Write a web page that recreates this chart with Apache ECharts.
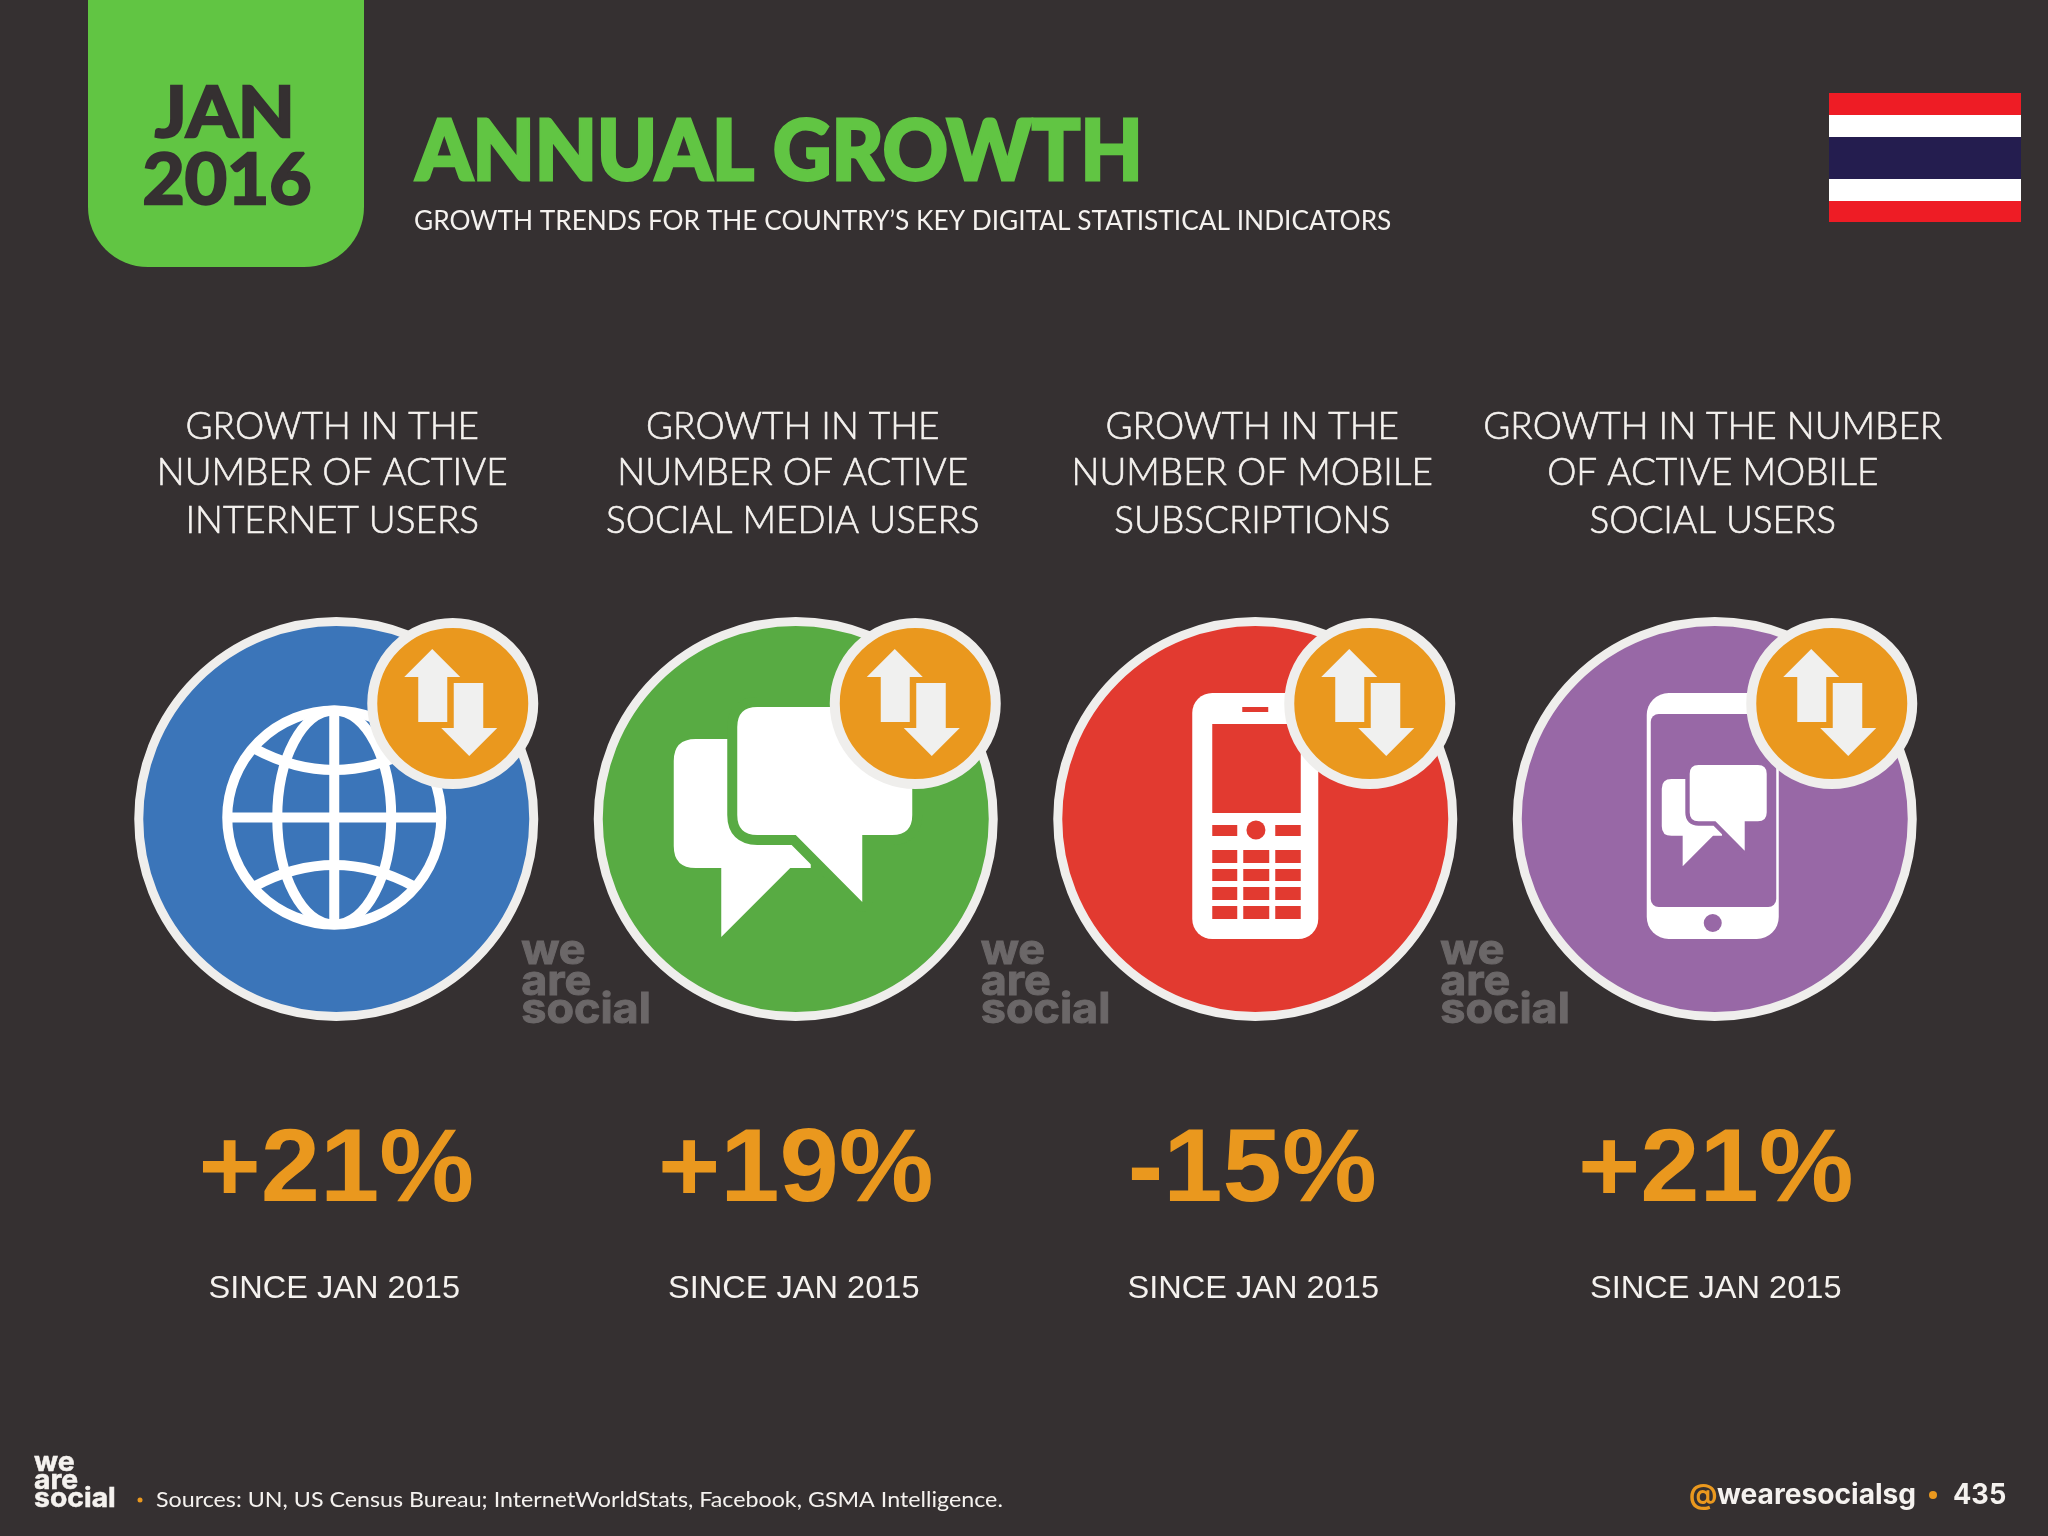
<!DOCTYPE html>
<html lang="en">
<head>
<meta charset="utf-8"/>
<title>Annual Growth</title>
<style>
    html, body { margin: 0; padding: 0; background: #353031; }
    #main { width: 2048px; height: 1536px; }
</style>
<script src="https://cdn.jsdelivr.net/npm/echarts@6/dist/echarts.min.js"></script>
</head>
<body>
<div id="main"></div>
<script>
var categories = ['internet', 'social', 'mobile', 'mobileSocial'];
var headings = [
    ['GROWTH IN THE', 'NUMBER OF ACTIVE', 'INTERNET USERS'],
    ['GROWTH IN THE', 'NUMBER OF ACTIVE', 'SOCIAL MEDIA USERS'],
    ['GROWTH IN THE', 'NUMBER OF MOBILE', 'SUBSCRIPTIONS'],
    ['GROWTH IN THE NUMBER', 'OF ACTIVE MOBILE', 'SOCIAL USERS']
];
var growthValues = [21, 19, -15, 21];
var sinceLabels = ['SINCE JAN 2015', 'SINCE JAN 2015', 'SINCE JAN 2015', 'SINCE JAN 2015'];
var circleColors = ['#3b75b9', '#58ab43', '#e23a30', '#9868a6'];

var BG = '#353031', RING = '#efeeec', ORANGE = '#ea981e', WHITE = '#ffffff', TEXT = '#f5f2ef';
var BASE = '"Lato", sans-serif', LOGO = '"Inter", sans-serif', NUM = '"Liberation Sans", Arial, sans-serif';

// y is the middle of the line, sx squeezes to the reference width, bold thickens with a stroke
function txt(str, x, y, font, fill, align, sx, bold) {
    var style = { text: str, font: font, fill: fill, textAlign: align || 'left', textVerticalAlign: 'middle' };
    if (bold) {
        style.stroke = fill;
        style.lineWidth = bold;
    }
    return { type: 'text', x: x, y: y, scaleX: sx || 1, silent: true, style: style };
}
function rect(x1, y1, x2, y2, fill, r) {
    return { type: 'rect', shape: { x: x1, y: y1, width: x2 - x1, height: y2 - y1, r: r || 0 }, style: { fill: fill } };
}
function circle(x, y, r, fill, stroke, lw) {
    return { type: 'circle', shape: { cx: x, cy: y, r: r }, style: { fill: fill, stroke: stroke, lineWidth: lw || 0 } };
}
function path(d, style) {
    return { type: 'path', shape: { pathData: d }, style: style };
}

function logo(x, y1, y2, y3, size, fill, sx, bold) {
    var f = '700 ' + size + 'px ' + LOGO;
    return [txt('we', x, y1, f, fill, 'left', sx, bold), txt('are', x, y2, f, fill, 'left', sx, bold), txt('social', x, y3, f, fill, 'left', sx, bold)];
}

var BUBBLE_BACK = 'M-100,-80 L15,-80 L15,49 L-5.5,49 L-74.5,118 L-74.5,49 L-100,49 Q-122,49 -122,27 L-122,-58 Q-122,-80 -100,-80 Z';
var BUBBLE_FRONT = 'M-38.5,-112 L96.5,-112 Q116.5,-112 116.5,-92 L116.5,-4 Q116.5,16 96.5,16 L66.5,16 L66.5,83 L0,16 L-38.5,16 Q-58.5,16 -58.5,-4 L-58.5,-92 Q-58.5,-112 -38.5,-112 Z';

function bubbles(color) {
    return [
        path(BUBBLE_BACK, { fill: WHITE }),
        path(BUBBLE_FRONT, { fill: color, stroke: color, lineWidth: 20, lineJoin: 'round' }),
        path(BUBBLE_FRONT, { fill: WHITE })
    ];
}

function globeIcon() {
    var line = { fill: 'none', stroke: WHITE, lineWidth: 10 };
    return [{
        type: 'group', x: -2, y: -1.5,
        children: [
            { type: 'circle', shape: { cx: 0, cy: 0, r: 107 }, style: line },
            { type: 'ellipse', shape: { cx: 0, cy: 0, rx: 57, ry: 107 }, style: line },
            path('M-107,0 L107,0 M0,-107 L0,107', line),
            path('M-80,-69 Q0,-26 80,-69', line),
            path('M-80,69 Q0,26 80,69', line)
        ]
    }];
}

function barPhoneIcon(color) {
    var els = [
        rect(-63, -126, 63, 120, WHITE, 20),
        rect(-13, -112, 13, -107, color),
        rect(-43, -95, 45.5, -6, color),
        rect(-43, 6, -18, 17, color),
        rect(20, 6, 45.5, 17, color),
        circle(0.7, 11, 9.5, color)
    ];
    [[31, 44], [50, 62], [68, 81], [87, 100]].forEach(function (row) {
        [[-43, -18], [-12, 14], [20, 45.5]].forEach(function (col) {
            els.push(rect(col[0], row[0], col[1], row[1], color));
        });
    });
    return els;
}

function smartPhoneIcon(color) {
    return [
        rect(-68, -126, 64, 120, WHITE, 22),
        rect(-64, -105, 61.5, 88, color, 8),
        circle(-2, 104, 9, color),
        { type: 'group', x: 0.7, y: -4.7, scaleX: 0.44, scaleY: 0.44, children: bubbles(color) }
    ];
}

function badge(dx, dy) {
    var w = { fill: '#f0f0ef' };
    return {
        type: 'group', x: dx, y: dy,
        children: [
            circle(0, 0, 80.5, ORANGE, RING, 10),
            path('M-20.5,-54.5 L7.5,-26.5 L-5.5,-26.5 L-5.5,18.5 L-34.5,18.5 L-34.5,-26.5 L-48.5,-26.5 Z', w),
            path('M1,-20.5 L30.5,-20.5 L30.5,24.5 L44.5,24.5 L16.5,52.5 L-11.5,24.5 L1,24.5 Z', w)
        ]
    };
}

var icons = [globeIcon, bubbles, barPhoneIcon, smartPhoneIcon];
var badgeDx = [116.5, 119.5, 114.5, 117];
var headingY = [427, 473, 521];
var headingDx = [-4, -3, -3, -2];
var valueDx = [0, 0, -3, 1];
var sinceDx = [-2, -2, -2, 1];

function renderColumn(params, api) {
    var i = api.value(0);
    var c = api.coord([i, 0]);
    var color = circleColors[i];
    var kids = [
        circle(0, 0, 197.5, color, RING, 9)
    ];
    var iconEls = icons[i](color);
    kids = kids.concat(iconEls);
    kids.push(badge(badgeDx[i], -115.5));
    if (i < 3) {
        kids = kids.concat(logo(185, 132, 163, 191, 42, '#6b6768', 1.07, 1));
    }
    var v = growthValues[i];
    var label = (v > 0 ? '+' : '') + v + '%';
    kids.push(txt(label, valueDx[i], 353, '700 104px ' + NUM, ORANGE, 'center', 1.025));
    kids.push(txt(sinceLabels[i], sinceDx[i], 470, '400 31px ' + NUM, TEXT, 'center', 1.05));
    headings[i].forEach(function (line, k) {
        kids.push(txt(line, headingDx[i], headingY[k] - c[1], '300 38px ' + BASE, TEXT, 'center', 0.972, 0.6));
    });
    return { type: 'group', x: c[0], y: c[1], children: kids };
}

var flagBands = [[93, 115, '#ee1c25'], [115, 137, '#ffffff'], [137, 179, '#241d4f'], [179, 201, '#ffffff'], [201, 222, '#ee1c25']];

var headerFooter = [
    { type: 'rect', shape: { x: 88, y: -80, width: 276, height: 347, r: [0, 0, 60, 60] }, style: { fill: '#61c543' } },
    txt('JAN', 225, 114, '700 70px ' + BASE, BG, 'center', 1.06, 2.5),
    txt('2016', 227, 181, '700 70px ' + BASE, BG, 'center', 1.04, 2.5),
    txt('ANNUAL GROWTH', 416, 153, '900 84px ' + BASE, '#61c543', 'left', 0.958, 3),
    txt('GROWTH TRENDS FOR THE COUNTRY\u2019S KEY DIGITAL STATISTICAL INDICATORS', 414, 221, '400 27px ' + BASE, TEXT, 'left', 0.973),
    circle(140, 1500, 2.5, ORANGE),
    txt('Sources: UN, US Census Bureau; InternetWorldStats, Facebook, GSMA Intelligence.', 156, 1500, '400 22px ' + BASE, TEXT, 'left', 1.057),
    txt('@', 1689, 1496, '700 28px ' + LOGO, ORANGE, 'left', 1),
    txt('wearesocialsg', 1717, 1496, '700 28px ' + LOGO, TEXT, 'left', 1.005),
    circle(1933, 1495, 4, ORANGE),
    txt('435', 1953, 1496, '700 28px ' + LOGO, TEXT, 'left', 0.97)
].concat(logo(34, 1463, 1481, 1499, 27, TEXT, 1.05, 0.5));

flagBands.forEach(function (b) {
    headerFooter.push(rect(1829, b[0], 2021, b[1], b[2]));
});

var myChart = echarts.init(document.getElementById('main'));
var option = {
    backgroundColor: BG,
    animation: false,
    tooltip: { show: false },
    grid: { left: 106.5, width: 1838, top: 619, height: 400 },
    xAxis: { type: 'category', data: categories, show: false },
    yAxis: { type: 'category', data: ['growth'], show: false },
    graphic: { elements: headerFooter },
    series: [{
        type: 'custom',
        clip: false,
        silent: true,
        coordinateSystem: 'cartesian2d',
        renderItem: renderColumn,
        encode: { x: 0, y: 1 },
        data: categories.map(function (c, i) { return [i, 0, growthValues[i]]; })
    }]
};
myChart.setOption(option);
</script>
</body>
</html>
